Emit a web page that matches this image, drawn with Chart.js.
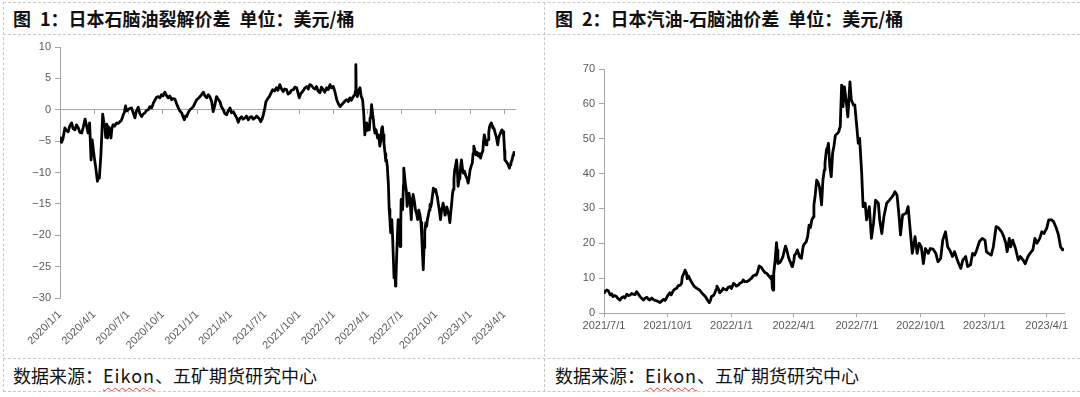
<!DOCTYPE html>
<html lang="zh">
<head>
<meta charset="UTF-8">
<title>日本石脑油价差</title>
<script src="https://cdn.jsdelivr.net/npm/chart.js"></script>
<style>
    body {
        margin: 0;
        width: 1080px;
        height: 397px;
        background: #fff;
        position: relative;
        overflow: hidden;
        font-family: 'Noto Sans CJK SC', sans-serif;
    }
    .hline, .vline {
        position: absolute;
        border: 0 dashed #c8c8c8;
    }
    .hline { left: 3px; right: 0; border-top-width: 1px; }
    .vline { top: 2px; height: 390px; border-left-width: 1px; }
    .title {
        position: absolute;
        top: 2px;
        line-height: 33px;
        font-size: 18px;
        font-weight: bold;
        color: #111;
        white-space: pre;
    }
    .source {
        position: absolute;
        top: 359px;
        line-height: 33px;
        font-size: 18px;
        color: #111;
        white-space: pre;
    }
    .source span {
        letter-spacing: 1px;
        text-decoration: underline wavy #e04040;
        text-decoration-thickness: 1px;
        text-underline-offset: 4px;
    }
    .box { position: absolute; top: 36px; height: 321px; }
</style>
</head>
<body>
<div class="hline" style="top:2px"></div>
<div class="hline" style="top:34px"></div>
<div class="hline" style="top:358px"></div>
<div class="hline" style="top:391px"></div>
<div class="vline" style="left:3px"></div>
<div class="vline" style="left:544px"></div>

<div class="title" style="left:13px">图&ensp;1：日本石脑油裂解价差&ensp;单位：美元/桶</div>
<div class="title" style="left:555px">图&ensp;2：日本汽油-石脑油价差&ensp;单位：美元/桶</div>

<div class="box" style="left:4px;width:538px"><canvas id="crackChart"></canvas></div>
<div class="box" style="left:544px;width:535px"><canvas id="spreadChart"></canvas></div>

<div class="source" style="left:13px">数据来源：<span>Eikon</span>、五矿期货研究中心</div>
<div class="source" style="left:555px">数据来源：<span>Eikon</span>、五矿期货研究中心</div>

<script>
// chart 1: naphtha crack, days since 2020-01-01
const crackDay = [
    0, 4, 8, 13, 17, 22, 26, 31, 35, 40,
    44, 49, 53, 58, 62, 67, 71, 75, 79, 83,
    86, 89, 92, 95, 98, 100, 103, 105, 109, 112,
    114, 117, 120, 122, 125, 127, 129, 132, 136, 139,
    142, 146, 151, 155, 160, 164, 169, 172, 175, 178,
    182, 186, 191, 195, 200, 204, 209, 213, 218, 222,
    227, 231, 236, 240, 245, 249, 254, 258, 262, 267,
    271, 275, 280, 284, 289, 293, 298, 302, 307, 311,
    316, 320, 325, 329, 332, 335, 338, 342, 347, 351,
    356, 360, 365, 369, 374, 378, 383, 387, 392, 396,
    400, 405, 409, 413, 418, 422, 427, 431, 436, 440,
    445, 449, 454, 458, 463, 467, 472, 476, 480, 485,
    489, 494, 498, 503, 507, 512, 516, 521, 525, 530,
    533, 536, 540, 543, 547, 550, 555, 559, 563, 568,
    573, 578, 582, 587, 591, 596, 600, 605, 609, 614,
    618, 623, 627, 632, 635, 639, 643, 648, 653, 659,
    663, 667, 671, 676, 680, 685, 689, 694, 698, 703,
    707, 712, 716, 721, 725, 730, 734, 739, 743, 748,
    752, 757, 761, 766, 770, 774, 778, 783, 787, 789,
    790, 791, 794, 797, 801, 804, 808, 811, 814, 817,
    819, 821, 823, 826, 828, 830, 832, 835, 837, 839,
    841, 844, 848, 851, 854, 857, 859, 861, 863, 865,
    868, 870, 872, 874, 877, 879, 881, 883, 885, 886,
    888, 890, 892, 894, 896, 897, 899, 901, 903, 906,
    908, 910, 911, 913, 915, 917, 918, 920, 923, 925,
    927, 930, 932, 935, 938, 940, 943, 946, 949, 952,
    955, 958, 961, 964, 966, 968, 970, 972, 974, 977,
    979, 981, 983, 986, 988, 990, 992, 995, 997, 1000,
    1003, 1006, 1008, 1010, 1013, 1016, 1019, 1021, 1023, 1026,
    1028, 1030, 1033, 1036, 1039, 1041, 1044, 1046, 1048, 1050,
    1052, 1054, 1056, 1059, 1061, 1063, 1066, 1068, 1070, 1072,
    1075, 1077, 1080, 1084, 1087, 1090, 1093, 1095, 1097, 1099,
    1101, 1103, 1105, 1108, 1111, 1114, 1117, 1120, 1123, 1126,
    1129, 1131, 1133, 1135, 1138, 1140, 1143, 1145, 1147, 1149,
    1152, 1154, 1156, 1159, 1162, 1165, 1169, 1171, 1174, 1177,
    1180, 1183, 1185, 1187, 1188, 1191, 1194, 1197, 1200, 1202,
    1204, 1207, 1210, 1212, 1214
];
const crackValue = [
    -4.3, -5.2, -4.6, -2.9, -3.3, -3.5, -2.6, -2.1, -3.0, -3.2,
    -2.4, -2.9, -3.6, -3.7, -2.8, -1.5, -2.6, -3.7, -2.1, -8.0,
    -4.8, -6.4, -7.8, -9.0, -10.5, -11.4, -10.6, -10.9, -7.4, -3.5,
    -0.7, -2.0, -2.7, -4.4, -2.3, -4.5, -2.7, -3.0, -4.5, -2.8,
    -2.4, -2.6, -2.1, -2.2, -1.9, -1.7, -0.8, -0.4, 0.6, -0.2,
    0.0, 0.2, 0.3, -0.4, -1.3, -0.2, 0.4, -0.6, -1.1, -0.7,
    -0.5, -0.1, 0.0, 0.5, 0.3, 1.0, 1.6, 2.0, 2.1, 1.9,
    2.4, 2.2, 2.8, 2.3, 1.9, 2.2, 1.6, 1.8, 1.7, 1.0,
    0.3, -0.2, -0.5, -1.2, -1.6, -1.0, -1.1, -0.5, 0.0, 0.2,
    0.5, 1.0, 1.6, 1.8, 2.1, 2.4, 2.8, 2.2, 1.9, 2.4,
    2.1, 1.3, -0.3, 0.6, 2.1, 1.7, 1.3, 0.5, 0.0, -0.6,
    -0.8, -0.2, 0.3, -0.5, -0.3, -0.8, -1.3, -2.0, -1.4, -1.1,
    -1.5, -1.3, -1.0, -1.6, -1.2, -1.1, -1.5, -1.3, -1.0, -1.3,
    -1.5, -1.9, -1.4, -0.8, 0.3, 1.3, 1.8, 2.1, 2.6, 3.2,
    3.0, 3.5, 3.1, 4.0, 3.4, 2.9, 3.3, 3.2, 2.5, 2.7,
    3.1, 3.2, 3.6, 3.5, 2.8, 1.9, 2.6, 2.9, 3.4, 3.7,
    3.3, 4.0, 3.9, 3.5, 3.3, 3.7, 3.0, 2.7, 3.6, 3.2,
    2.8, 3.5, 3.2, 4.0, 3.5, 3.7, 2.9, 1.6, 1.0, 0.5,
    0.8, 1.1, 1.4, 1.6, 1.3, 1.9, 1.5, 2.1, 2.4, 3.0,
    7.2, 2.5, 2.1, 3.0, 3.5, 2.2, 1.6, -0.5, -4.0, -2.5,
    -2.1, -3.3, -2.9, -3.2, -1.3, -1.0, 0.8, -0.8, -1.6, -3.0,
    -3.7, -3.2, -4.5, -4.0, -5.8, -4.8, -3.0, -2.7, -4.0, -5.3,
    -7.0, -8.2, -8.0, -9.0, -12.0, -15.9, -17.5, -19.6, -18.0, -17.5,
    -20.0, -23.4, -26.8, -25.5, -28.1, -27.0, -23.4, -20.0, -17.5, -19.0,
    -21.8, -18.0, -14.3, -15.0, -15.9, -12.0, -9.3, -10.5, -12.2, -13.0,
    -15.4, -14.0, -13.3, -14.5, -17.5, -15.0, -13.5, -14.5, -15.9, -16.5,
    -17.5, -16.0, -16.7, -18.0, -20.2, -23.0, -25.5, -22.0, -19.4, -18.0,
    -18.6, -17.5, -17.0, -16.0, -15.1, -15.5, -14.9, -13.5, -12.5, -13.0,
    -12.7, -13.5, -14.0, -14.9, -16.0, -17.5, -16.0, -15.5, -14.9, -15.8,
    -16.8, -16.5, -15.5, -16.2, -17.0, -18.0, -16.0, -14.9, -13.5, -12.7,
    -11.0, -9.6, -9.0, -8.0, -9.5, -12.2, -11.0, -10.6, -9.0, -8.0,
    -9.5, -10.1, -9.8, -10.6, -11.0, -11.7, -10.5, -9.6, -9.6, -8.8,
    -8.5, -7.0, -5.8, -6.5, -7.2, -6.8, -7.4, -7.0, -7.7, -7.0,
    -6.6, -5.0, -4.0, -4.5, -5.6, -5.0, -4.8, -3.6, -2.7, -2.4,
    -2.1, -2.6, -2.9, -3.0, -3.7, -4.3, -5.6, -4.6, -4.0, -3.6,
    -3.2, -3.5, -4.2, -6.5, -8.0, -8.2, -8.5, -8.8, -9.3, -8.8,
    -8.5, -8.0, -7.2, -6.8, -6.9
];
const crackTicks = ['2020/1/1', '2020/4/1', '2020/7/1', '2020/10/1', '2021/1/1', '2021/4/1', '2021/7/1',
    '2021/10/1', '2022/1/1', '2022/4/1', '2022/7/1', '2022/10/1', '2023/1/1', '2023/4/1'];

// chart 2: gasoline - naphtha, days since 2021-07-01
const spreadDay = [
    0, 2, 4, 6, 9, 11, 13, 15, 18, 20,
    23, 25, 28, 30, 33, 35, 38, 40, 42, 45,
    47, 49, 52, 54, 57, 59, 62, 64, 66, 69,
    71, 74, 76, 78, 81, 83, 86, 88, 90, 92,
    95, 97, 100, 102, 105, 107, 110, 112, 113, 115,
    117, 119, 120, 122, 124, 126, 129, 131, 134, 136,
    138, 141, 143, 146, 148, 150, 152, 154, 155, 158,
    160, 162, 163, 165, 167, 170, 172, 174, 177, 179,
    182, 184, 187, 189, 191, 194, 196, 199, 201, 203,
    206, 209, 211, 213, 215, 218, 220, 222, 224, 227,
    229, 231, 233, 235, 237, 239, 241, 242, 243, 244,
    245, 247, 249, 250, 251, 254, 256, 258, 260, 262,
    264, 266, 268, 269, 271, 272, 274, 275, 277, 279,
    281, 282, 284, 285, 287, 288, 290, 292, 294, 296,
    298, 300, 302, 303, 305, 307, 309, 311, 313, 314,
    316, 318, 319, 321, 323, 324, 326, 328, 330, 332,
    334, 337, 339, 340, 341, 343, 345, 347, 350, 352,
    355, 357, 360, 362, 364, 367, 369, 372, 374, 377,
    379, 383, 386, 389, 392, 396, 398, 401, 404, 408,
    412, 417, 420, 423, 426, 428, 431, 436, 439, 442,
    445, 449, 452, 455, 458, 461, 464, 468, 471, 475,
    479, 482, 486, 489, 493, 496, 499, 503, 506, 510,
    512, 515, 518, 522, 525, 529, 532, 535, 538, 542,
    546, 550, 552, 555, 559, 562, 566, 570, 574, 577,
    580, 582, 585, 587, 590, 594, 598, 601, 605, 608,
    612, 615, 619, 622, 625, 629, 632, 635, 639, 642,
    646, 649, 653, 656, 659, 662, 664
];
const spreadValue = [
    5.6, 6.3, 6.6, 6.4, 5.2, 5.5, 4.7, 5.0, 4.7, 4.2,
    3.7, 4.3, 4.7, 4.3, 5.4, 5.0, 5.2, 5.6, 5.4, 5.3,
    6.1, 5.6, 4.7, 4.3, 3.7, 4.2, 4.5, 4.0, 3.7, 4.3,
    3.9, 3.6, 3.5, 3.3, 3.0, 3.4, 3.9, 3.6, 4.2, 5.0,
    5.8, 5.2, 6.4, 6.8, 7.1, 7.8, 8.0, 8.5, 10.4, 11.2,
    12.3, 11.5, 9.9, 10.6, 9.7, 9.0, 8.0, 7.5, 7.1, 6.8,
    6.6, 5.8, 5.4, 4.8, 4.2, 3.5, 3.0, 3.8, 4.7, 5.0,
    5.8, 6.8, 7.7, 7.0, 5.8, 6.4, 7.1, 6.8, 6.6, 7.3,
    7.6, 7.0, 8.5, 8.2, 7.7, 8.0, 8.5, 8.8, 9.5, 9.0,
    9.0, 9.3, 9.7, 10.0, 10.6, 10.9, 10.9, 12.0, 13.5, 13.1,
    12.5, 11.9, 11.5, 11.4, 10.8, 10.4, 9.8, 10.6, 7.1, 6.6,
    11.4, 15.0, 20.2, 18.0, 14.2, 14.5, 15.2, 16.0, 17.6, 19.2,
    18.0, 16.2, 15.0, 14.7, 13.5, 13.3, 15.0, 16.6, 17.0, 18.1,
    17.0, 16.2, 15.8, 15.7, 18.5, 19.5, 20.0, 20.5, 22.0, 25.2,
    24.5, 26.7, 27.5, 31.0, 34.0, 38.1, 37.5, 36.2, 33.0, 31.0,
    38.1, 41.0, 42.9, 46.7, 47.8, 48.7, 42.0, 39.1, 45.8, 48.0,
    51.0, 51.5, 52.0, 53.0, 53.4, 65.4, 59.2, 64.9, 60.1, 56.3,
    66.3, 61.1, 59.7, 59.7, 55.4, 48.7, 50.1, 40.0, 30.5, 31.5,
    26.7, 30.5, 21.4, 25.7, 32.4, 31.5, 26.7, 22.8, 27.6, 31.5,
    32.4, 33.6, 34.8, 33.8, 27.6, 22.4, 28.1, 28.6, 30.5, 23.8,
    17.1, 21.9, 17.1, 20.0, 19.0, 14.2, 18.5, 17.1, 18.5, 18.3,
    17.1, 14.7, 15.7, 20.9, 23.3, 19.0, 18.1, 16.2, 17.6, 15.2,
    14.2, 12.8, 15.2, 16.2, 13.3, 13.8, 17.1, 16.6, 18.1, 20.5,
    21.4, 20.9, 17.6, 17.1, 16.6, 19.0, 24.8, 24.3, 23.3, 21.9,
    20.0, 17.6, 21.4, 19.0, 20.9, 18.5, 15.2, 16.2, 15.2, 14.1,
    16.2, 17.1, 18.1, 21.4, 20.0, 21.4, 23.3, 22.8, 24.3, 26.7,
    26.7, 26.2, 24.3, 22.4, 19.0, 18.1, 18.5
];
const spreadTicks = ['2021/7/1', '2021/10/1', '2022/1/1', '2022/4/1', '2022/7/1', '2022/10/1', '2023/1/1', '2023/4/1'];

const AXIS = '#a6a6a6';
Chart.defaults.color = '#595959';
Chart.defaults.font.family = "'Liberation Sans', Arial, sans-serif";
Chart.defaults.font.size = 11;

// day offset of a 'y/m/d' label from the first label
function dayOf(label, first) {
    const p = label.split('/').map(Number);
    const q = first.split('/').map(Number);
    return (Date.UTC(p[0], p[1] - 1, p[2]) - Date.UTC(q[0], q[1] - 1, q[2])) / 86400000;
}
function tickSetter(labels) {
    const days = labels.map(l => dayOf(l, labels[0]));
    return axis => { axis.ticks = days.map(d => ({ value: d })); };
}
function labelFor(labels) {
    const map = {};
    labels.forEach(l => { map[dayOf(l, labels[0])] = l; });
    return v => map[v] || '';
}
function lineData(days, values) {
    return days.map((d, i) => ({ x: d, y: values[i] }));
}
const lineStyle = {
    borderColor: '#000',
    borderWidth: 2.8,
    pointRadius: 0,
    tension: 0,
    borderJoinStyle: 'round',
    fill: false
};

// Chart 1
new Chart(document.getElementById('crackChart'), {
    type: 'line',
    data: { datasets: [Object.assign({ data: lineData(crackDay, crackValue) }, lineStyle)] },
    options: {
        responsive: true,
        maintainAspectRatio: false,
        animation: false,
        layout: { padding: { top: 11, right: 27, left: 0, bottom: 0 } },
        plugins: { legend: { display: false }, tooltip: { enabled: false } },
        scales: {
            x: {
                type: 'linear',
                min: 0,
                max: 1215,
                afterBuildTicks: tickSetter(crackTicks),
                afterFit: s => { s.height = 59; },
                grid: { display: false },
                border: { display: false },
                ticks: { autoSkip: false, minRotation: 45, maxRotation: 45, padding: 2, callback: labelFor(crackTicks) }
            },
            x0: {
                type: 'linear',
                position: { y: 0 },
                min: 0,
                max: 1215,
                afterBuildTicks: tickSetter(crackTicks),
                grid: { drawOnChartArea: false, color: AXIS, tickLength: 4 },
                border: { color: AXIS },
                ticks: { display: false }
            },
            y: {
                min: -30,
                max: 10,
                afterFit: s => { s.width = 56; },
                grid: { drawOnChartArea: false, color: AXIS, tickLength: 5 },
                border: { color: AXIS },
                ticks: { stepSize: 5, padding: 4, callback: v => v < 0 ? '\u2212' + Math.abs(v) : String(v) }
            }
        }
    }
});

// Chart 2
new Chart(document.getElementById('spreadChart'), {
    type: 'line',
    data: { datasets: [Object.assign({ data: lineData(spreadDay, spreadValue) }, lineStyle)] },
    options: {
        responsive: true,
        maintainAspectRatio: false,
        animation: false,
        layout: { padding: { top: 33, right: 15, left: 0, bottom: 0 } },
        plugins: { legend: { display: false }, tooltip: { enabled: false } },
        scales: {
            x: {
                type: 'linear',
                min: 0,
                max: 664,
                afterBuildTicks: tickSetter(spreadTicks),
                afterFit: s => { s.height = 44; },
                grid: { drawOnChartArea: false, color: AXIS, tickLength: 4 },
                border: { color: AXIS },
                ticks: { autoSkip: false, maxRotation: 0, padding: 2, callback: labelFor(spreadTicks) }
            },
            y: {
                min: 0,
                max: 70,
                afterFit: s => { s.width = 60; },
                grid: { drawOnChartArea: false, color: AXIS, tickLength: 5 },
                border: { color: AXIS },
                ticks: { stepSize: 10, padding: 4 }
            }
        }
    }
});
</script>
</body>
</html>
